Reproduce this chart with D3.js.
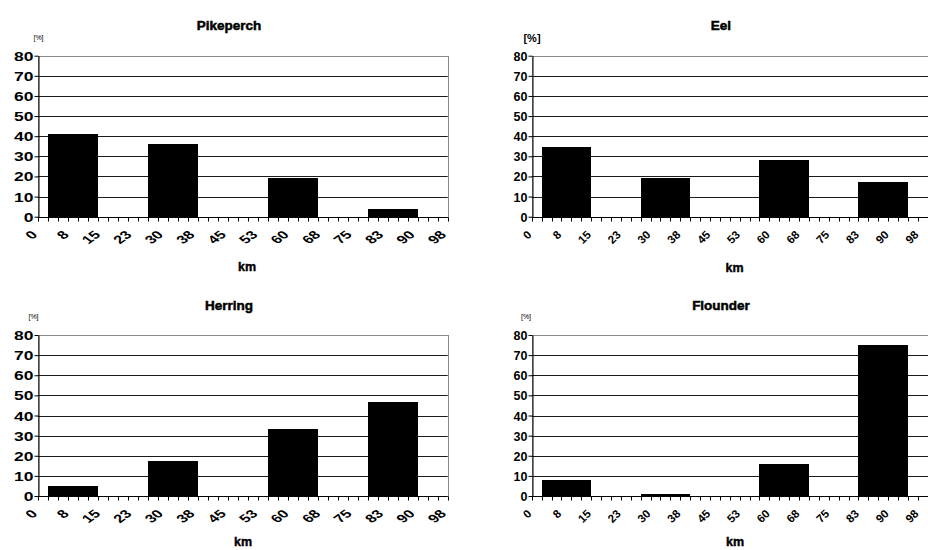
<!DOCTYPE html>
<html><head><meta charset="utf-8">
<script src="https://cdn.jsdelivr.net/npm/d3@7"></script>
<style>body{margin:0;background:#fff}svg{display:block}text{font-family:"Liberation Sans",Arial,sans-serif}</style>
</head><body><svg id="c" width="928" height="550"></svg>
<script>
// 41 distance classes of 2.5 km (0 .. 100 km)
const km = [0,2.5,5,7.5,10,12.5,15,17.5,20,22.5,25,27.5,30,32.5,35,37.5,40,42.5,45,47.5,50,52.5,55,57.5,60,62.5,65,67.5,70,72.5,75,77.5,80,82.5,85,87.5,90,92.5,95,97.5,100];
const tickLabels = ["0","8","15","23","30","38","45","53","60","68","75","83","90","98"];
const yTicks = [0,10,20,30,40,50,60,70,80];
const titles = ["Pikeperch","Eel","Herring","Flounder"];

const pikeperch = [0,41,41,41,41,41,0,0,0,0,0,36,36,36,36,36,0,0,0,0,0,0,0,19,19,19,19,19,0,0,0,0,0,4,4,4,4,4,0,0,0];
const eel       = [0,34.5,34.5,34.5,34.5,34.5,0,0,0,0,0,19,19,19,19,19,0,0,0,0,0,0,0,28,28,28,28,28,0,0,0,0,0,17,17,17,17,17,0,0,0];
const herring   = [0,5,5,5,5,5,0,0,0,0,0,17.5,17.5,17.5,17.5,17.5,0,0,0,0,0,0,0,33.5,33.5,33.5,33.5,33.5,0,0,0,0,0,46.5,46.5,46.5,46.5,46.5,0,0,0];
const flounder  = [0,8,8,8,8,8,0,0,0,0,0,1,1,1,1,1,0,0,0,0,0,0,0,16,16,16,16,16,0,0,0,0,0,75,75,75,75,75,0,0,0];
const series = [pikeperch, eel, herring, flounder];

// layout of each panel (pixel geometry)
const panels = [
  {x0:37.7, x1:447.7, yT:55.7, yB:216.7, lx1:447.2, tx:229, ty:30, px:38.5, py:40, pf:7, kx:247, ky:271, sx:1.4},
  {x0:531.7, x1:937.6, yT:55.7, yB:216.7, lx1:919.3, tx:721, ty:30, px:532, py:42, pf:11, kx:734.5, ky:271.5, sx:1},
  {x0:37.7, x1:447.7, yT:335, yB:496, lx1:447.2, tx:229, ty:309.5, px:33.5, py:318.5, pf:7, kx:243, ky:546, sx:1.4},
  {x0:531.7, x1:937.6, yT:335, yB:496, lx1:919.3, tx:721, ty:309.5, px:526, py:318.5, pf:7, kx:735, ky:546, sx:1}
];

const svg = d3.select("#c");
const C = Math.SQRT1_2;
panels.forEach((p, i) => {
  const g = svg.append("g");
  const x = d3.scaleBand().domain(km).range([p.x0, p.x1]).paddingInner(0).paddingOuter(0);
  const xl = d3.scalePoint().domain(tickLabels).range([p.x0 + 0.6, p.lx1]);
  const y = d3.scaleLinear().domain([0, 80]).range([p.yB, p.yT]);
  const data = series[i];

  // plot border (grey)
  g.append("rect").attr("x", Math.round(p.x0) + 0.5).attr("y", Math.round(y(80)) + 0.5)
    .attr("width", Math.round(p.x1 - p.x0)).attr("height", Math.round(p.yB - p.yT))
    .attr("fill", "none").attr("stroke", "#8a8a8a").attr("stroke-width", 1);

  // gridlines
  g.append("g").selectAll("line").data(yTicks.filter(t => t > 0 && t < 80)).join("line")
    .attr("x1", p.x0).attr("x2", p.x1)
    .attr("y1", d => Math.round(y(d)) + 0.5).attr("y2", d => Math.round(y(d)) + 0.5)
    .attr("stroke", "#1a1a1a").attr("stroke-width", 1);

  // bars (one column per class, no gap)
  g.append("g").attr("shape-rendering", "crispEdges")
    .selectAll("rect").data(km.map((k, j) => ({k, v: data[j]})).filter(d => d.v > 0)).join("rect")
    .attr("x", d => Math.round(x(d.k))).attr("width", d => Math.round(x(d.k) + x.bandwidth()) - Math.round(x(d.k)))
    .attr("y", d => Math.round(y(d.v))).attr("height", d => Math.round(y(0)) - Math.round(y(d.v)) + 1)
    .attr("fill", "#000");

  // y axis
  const ya = g.append("g").attr("transform", `translate(${Math.round(p.x0) + 0.5},0)`)
    .call(d3.axisLeft(y).tickValues(yTicks).tickSize(4).tickSizeOuter(0).tickFormat(d3.format("d")));
  ya.select(".domain").attr("stroke", "#000");
  ya.selectAll(".tick line").attr("stroke", "#000");
  ya.selectAll(".tick text").attr("font-size", 12.5).attr("font-weight", "bold").attr("fill", "#000")
    .attr("font-family", '"Liberation Sans",Arial,sans-serif')
    .attr("x", 0).attr("dy", "0.36em")
    .attr("transform", `translate(-5,0) scale(${p.sx},1)`);

  // x axis
  const xa = g.append("g").attr("transform", `translate(0,${Math.round(p.yB) + 0.5})`);
  xa.append("line").attr("x1", p.x0).attr("x2", p.x1).attr("stroke", "#000");
  xa.selectAll("line.tk").data(km.concat([102.5])).join("line").attr("class", "tk")
    .attr("x1", (d, j) => Math.round(p.x0 + j * x.step()) + 0.5)
    .attr("x2", (d, j) => Math.round(p.x0 + j * x.step()) + 0.5)
    .attr("y1", 0).attr("y2", 4).attr("stroke", "#000");

  // category labels rotated -45deg, end of text at the label position; rotated about their centre
  const fs = 11.5, cap = 0.716 * fs, baseY = 18;
  xa.selectAll("g.lab").data(tickLabels).join("g").attr("class", "lab")
    .each(function(d) {
      const t = d3.select(this).append("text").attr("text-anchor", "middle")
        .attr("font-size", fs).attr("font-weight", "bold").attr("fill", "#000").text(d);
      const w = t.node().getComputedTextLength();
      const cx = xl(d) - C * (w + cap) / 2 * p.sx;
      const cy = baseY + C * (w - cap) / 2;
      d3.select(this).attr("transform", `translate(${cx},${cy}) scale(${p.sx},1) rotate(-45)`);
      t.attr("y", cap / 2);
    });

  // title
  g.append("text").attr("x", p.tx).attr("y", p.ty).attr("text-anchor", "middle")
    .attr("font-size", 13.5).attr("font-weight", "bold").attr("stroke", "#000").attr("stroke-width", 0.5)
    .text(titles[i]);
  // unit
  g.append("text").attr("x", p.px).attr("y", p.py).attr("text-anchor", "middle")
    .attr("font-size", p.pf).attr("font-weight", p.pf > 8 ? "bold" : "normal").text("[%]");
  // x label
  g.append("text").attr("x", p.kx).attr("y", p.ky).attr("text-anchor", "middle")
    .attr("font-size", 12.5).attr("font-weight", "bold").attr("stroke", "#000").attr("stroke-width", 0.4)
    .text("km");
});
</script></body></html>
